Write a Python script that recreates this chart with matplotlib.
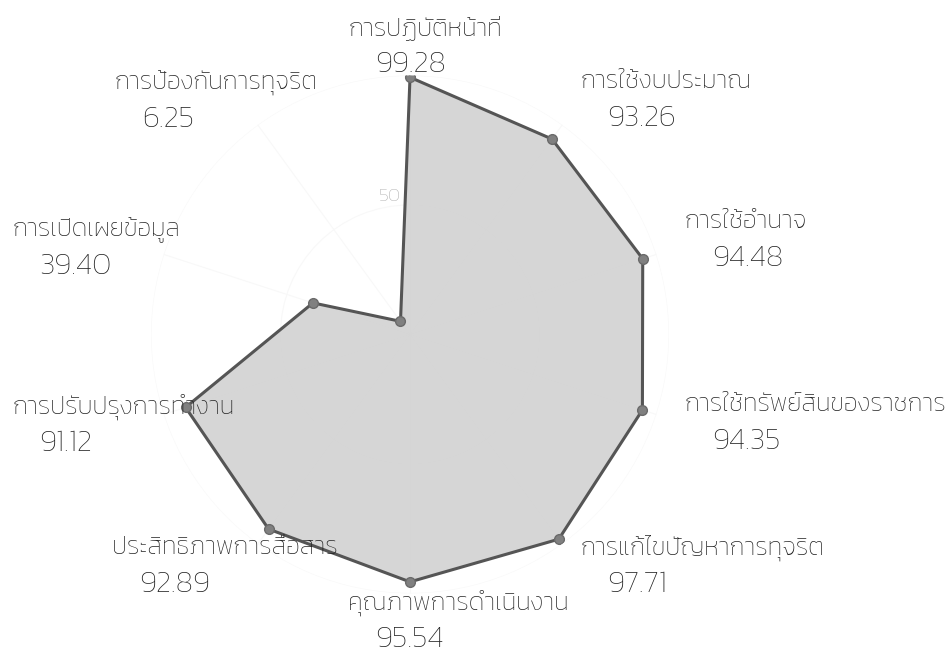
import matplotlib
matplotlib.use('Agg')
import matplotlib.pyplot as plt
import numpy as np

font = ['Kanit', 'DejaVu Sans']

categories = ['การปฏิบัติหน้าที่', 'การใช้งบประมาณ', 'การใช้อำนาจ',
              'การใช้ทรัพย์สินของราชการ', 'การแก้ไขปัญหาการทุจริต',
              'คุณภาพการดำเนินงาน', 'ประสิทธิภาพการสื่อสาร',
              'การปรับปรุงการทำงาน', 'การเปิดเผยข้อมูล', 'การป้องกันการทุจริต']
scores = [99.28, 93.26, 94.48, 94.35, 97.71, 95.54, 92.89, 91.12, 39.40, 6.25]

# label layout: left x of name, centre y of name (pixels from top-left)
label_px = [(348, 28), (580, 82), (685, 222), (685, 405), (580, 548),
            (348, 603), (112, 548), (12, 407), (12, 230), (115, 83)]
W, H = 948, 652

angles = np.linspace(0, 2 * np.pi, len(categories), endpoint=False)
theta = np.append(angles, angles[0])
r = np.append(scores, scores[0])

fig = plt.figure(figsize=(W / 100, H / 100), dpi=100)
ax = fig.add_axes([0.1593, 0.0898, 0.5464, 0.7945], projection='polar')
ax.set_theta_zero_location('N')
ax.set_theta_direction(-1)
ax.set_ylim(0, 100)

ax.fill(theta, r, color='#d4d4d4', alpha=0.95, zorder=2)
ax.plot(theta, r, color='#555555', linewidth=2.2, zorder=3)
ax.plot(angles, scores, 'o', color='#808080', markersize=7,
        markeredgecolor='#6a6a6a', zorder=4)

ax.set_xticks(angles)
ax.set_xticklabels([])
ax.set_rgrids([50, 100], labels=['50', ''], angle=-4, color='#acacac',
              fontsize=14, family=font, fontweight='light')
for t in ax.get_yticklabels():
    t.set_horizontalalignment('right')
ax.grid(color='#f8f8f8', linewidth=0.8)
ax.spines['polar'].set_visible(False)

for (x, y), name, val in zip(label_px, categories, scores):
    fig.text(x / W, 1 - y / H, name, ha='left', va='center', fontsize=18,
             family=font, fontweight='light', color='#222222')
    fig.text((x + 27) / W, 1 - (y + 37) / H, '%.2f' % val, ha='left',
             va='center', fontsize=22, family=font, fontweight='light',
             color='#222222')

fig.savefig('out.png')
